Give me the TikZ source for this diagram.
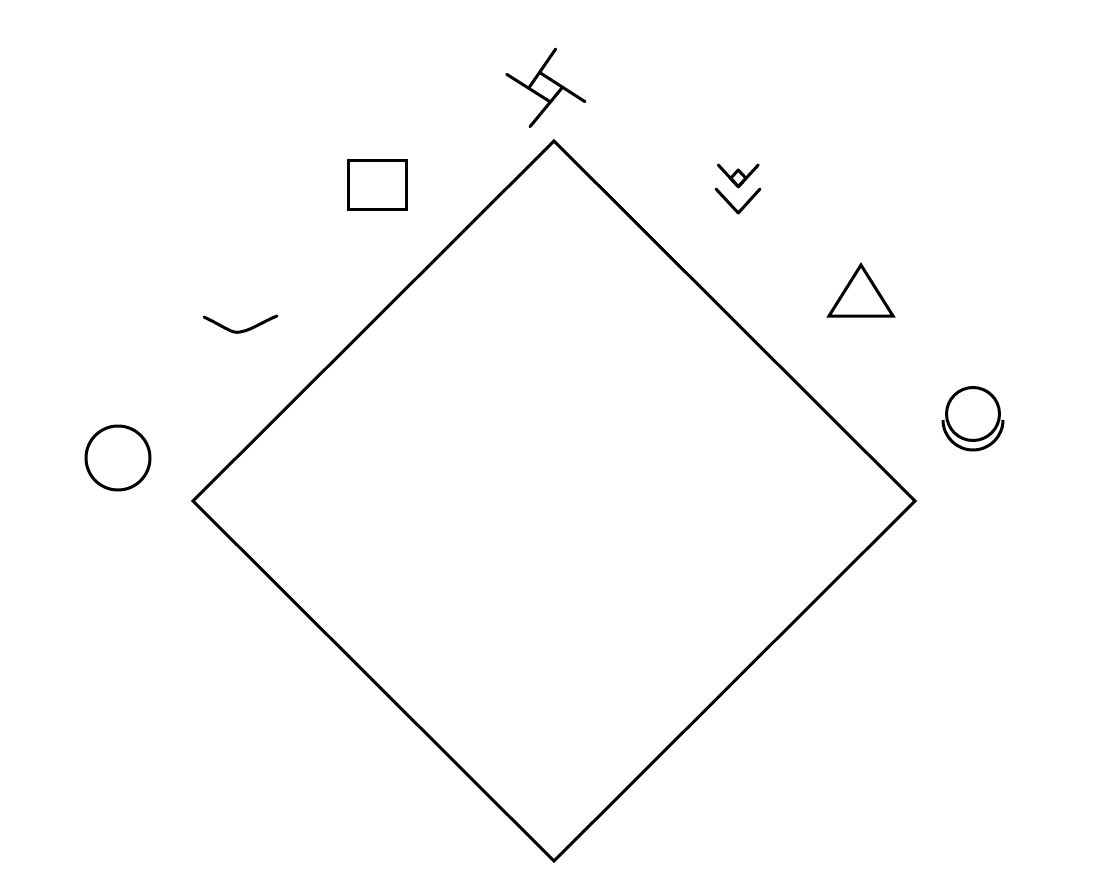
\documentclass[tikz,border=0pt]{standalone}
\begin{document}
\begin{tikzpicture}[x=1pt,y=-1pt,line width=3pt,
  sym/.style={draw=black,line width=3pt},
  round/.style={line cap=round,line join=round}]
\useasboundingbox[fill=white] (0,0) rectangle (1117,880);
% main diamond
\coordinate (dt) at (554,141);
\coordinate (dr) at (915,501);
\coordinate (db) at (554,861);
\coordinate (dl) at (193,501);
\draw[sym] (dt) -- (dr) -- (db) -- (dl) -- cycle;
% circle left
\draw[sym] (118,458) circle (32);
% arc symbol
\draw[sym,round] (204,317) .. controls (225,327) and (232,334) .. (240,332) .. controls (252,330) and (262,322) .. (277,316);
% square
\draw[sym] (348.5,160.5) rectangle (406.5,209.5);
% top symbol
\draw[sym,round] (555.7,49) -- (529,87.7);
\draw[sym,round] (561.7,88.3) -- (530,126.7);
\draw[sym,round] (506.7,74.3) -- (550,101.7);
\draw[sym,round] (540,72.7) -- (585,101.7);
% double chevron
\draw[sym,round] (718.3,165) -- (738.3,186.7) -- (758.3,165);
\draw[sym,round] (738.3,170) -- (730.7,178.3) -- (738.3,186.7) -- (746,178.3) -- cycle;
\draw[sym,round] (716,189) -- (738.3,213) -- (760,189);
% triangle
\draw[sym,line join=miter] (861,265) -- (893,316) -- (829,316) -- cycle;
% circle with cup
\draw[sym] (973,414) circle (26.5);
\draw[sym] (943,420) arc[start angle=180,end angle=0,radius=30];
\end{tikzpicture}
\end{document}
